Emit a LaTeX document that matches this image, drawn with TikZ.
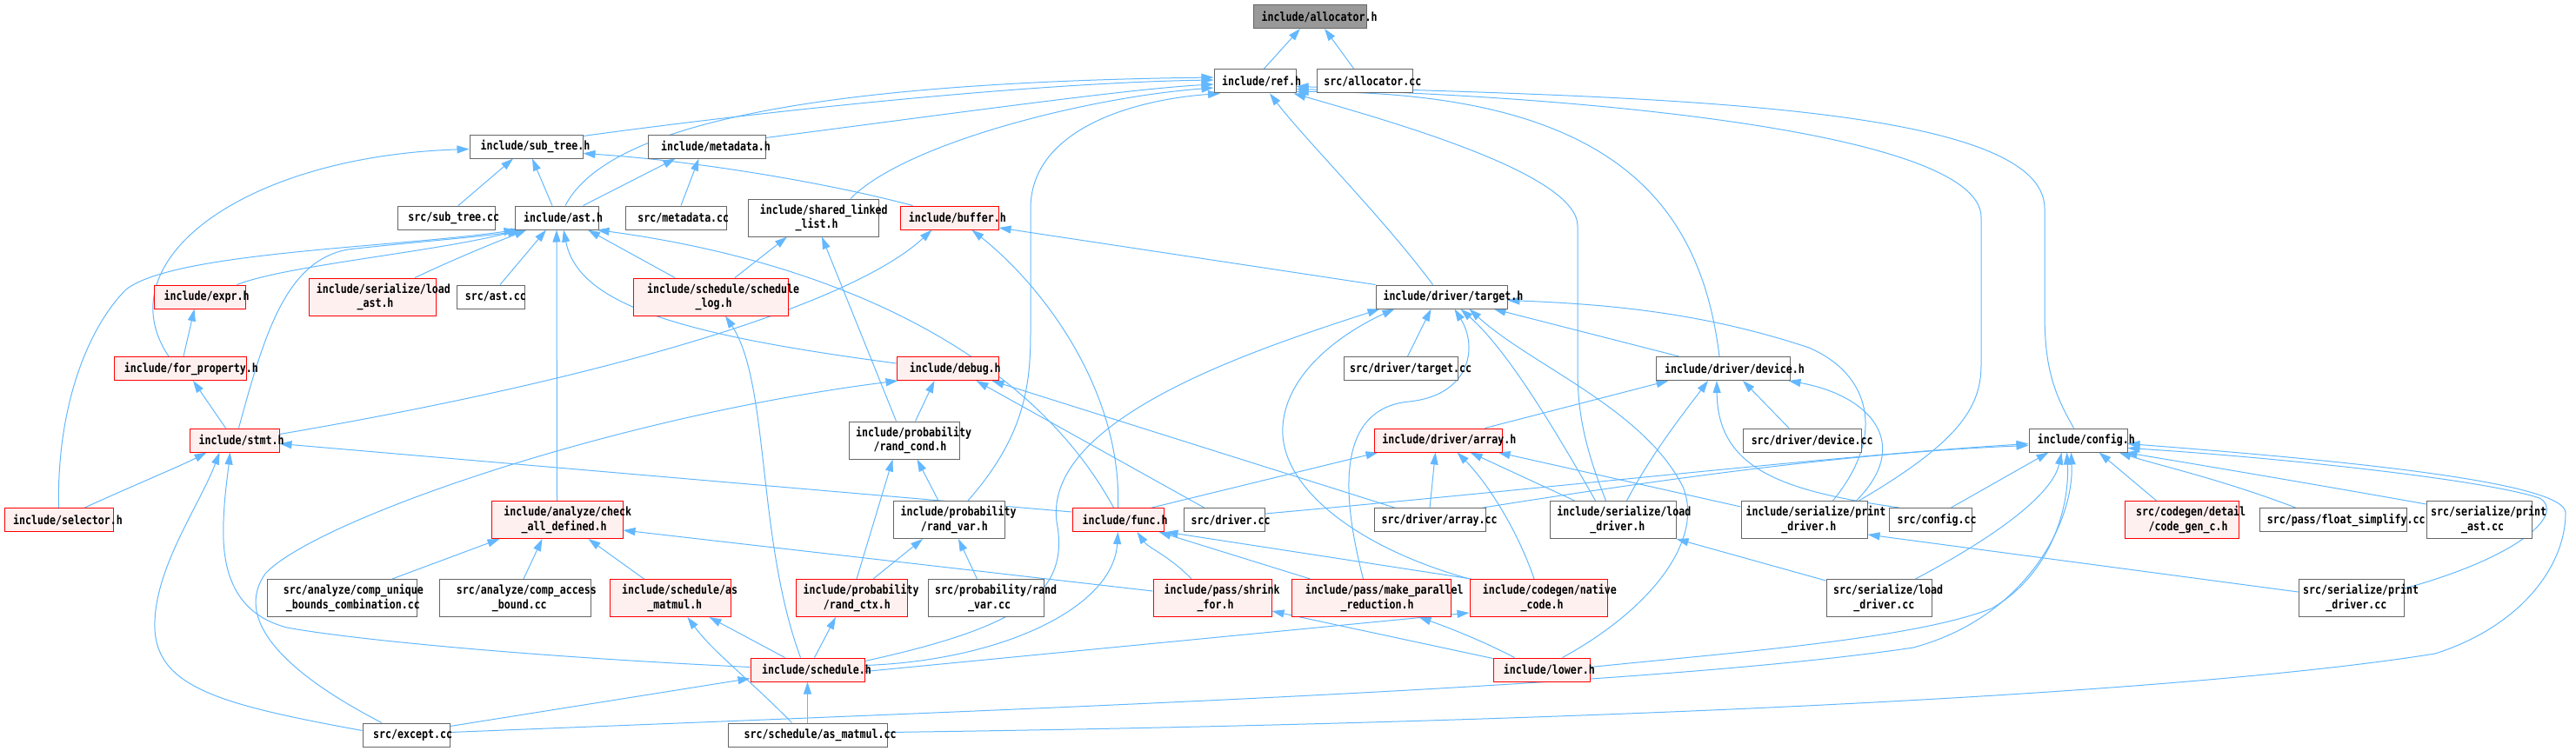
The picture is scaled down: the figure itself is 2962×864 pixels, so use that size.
\documentclass[tikz,border=0pt]{standalone}
\usepackage{fontspec}
\newfontfamily\dxfont{DejaVu Sans Mono}[FakeStretch=0.83]
\usetikzlibrary{arrows.meta}
\pgfdeclarelayer{bg}
\pgfsetlayers{bg,main}
\definecolor{edgec}{HTML}{63B8FF}
\definecolor{bordg}{HTML}{666666}
\definecolor{pinkf}{HTML}{FFF0F0}
\definecolor{grayf}{HTML}{999999}
\definecolor{redb}{HTML}{FF0000}
\newcommand\dxt[1]{\makebox[0.833\width][l]{#1}}
\begin{document}
\begin{tikzpicture}[x=1pt,y=-1pt,
 nd/.style={draw=bordg, fill=white, line width=1pt, inner sep=0pt, minimum height=27pt, font={\dxfont\bfseries\fontsize{14}{16.7}\selectfont}, align=center},
 tall/.style={minimum height=43pt},
 rd/.style={draw=redb, fill=pinkf},
 gr/.style={fill=grayf},
 conn/.style={draw=edgec, line width=1pt, -{Triangle[length=14pt,width=9pt]}}]
\useasboundingbox (0,0) rectangle (2962,864);
% nodes
\node[nd,gr,minimum width=130pt] (alloc) at (1506,19) {\dxt{include/allocator.h}};
\node[nd,minimum width=94pt] (ref) at (1443,93.5) {\dxt{include/ref.h}};
\node[nd,minimum width=110pt] (srcalloc) at (1569,93.5) {\dxt{src/allocator.cc}};
\node[nd,minimum width=130pt] (subtree) at (605,168.5) {\dxt{include/sub\_tree.h}};
\node[nd,minimum width=135pt] (metadata) at (812.5,168.5) {\dxt{include/metadata.h}};
\node[nd,minimum width=112pt] (srcsubtree) at (513,250.5) {\dxt{src/sub\_tree.cc}};
\node[nd,minimum width=96pt] (ast) at (640,250.5) {\dxt{include/ast.h}};
\node[nd,minimum width=116pt] (srcmetadata) at (777,250.5) {\dxt{src/metadata.cc}};
\node[nd,tall,minimum width=150pt] (sll) at (935,250.5) {\dxt{include/shared\_linked}\\\dxt{\_list.h}};
\node[nd,rd,minimum width=113pt] (buffer) at (1091.5,250.5) {\dxt{include/buffer.h}};
\node[nd,rd,minimum width=105pt] (expr) at (229.5,341.5) {\dxt{include/expr.h}};
\node[nd,rd,tall,minimum width=146pt] (loadast) at (428,341.5) {\dxt{include/serialize/load}\\\dxt{\_ast.h}};
\node[nd,minimum width=78pt] (srcast) at (564,341.5) {\dxt{src/ast.cc}};
\node[nd,rd,tall,minimum width=178pt] (schedlog) at (817,341.5) {\dxt{include/schedule/schedule}\\\dxt{\_log.h}};
\node[nd,minimum width=151pt] (target) at (1657.5,341.5) {\dxt{include/driver/target.h}};
\node[nd,rd,minimum width=152pt] (forprop) at (207,424) {\dxt{include/for\_property.h}};
\node[nd,rd,minimum width=117pt] (debug) at (1089.5,424) {\dxt{include/debug.h}};
\node[nd,minimum width=131pt] (srctarget) at (1610.5,424) {\dxt{src/driver/target.cc}};
\node[nd,minimum width=154pt] (device) at (1981,424) {\dxt{include/driver/device.h}};
\node[nd,rd,minimum width=103pt] (stmt) at (269.5,506.5) {\dxt{include/stmt.h}};
\node[nd,tall,minimum width=127pt] (randcond) at (1039.5,506.5) {\dxt{include/probability}\\\dxt{/rand\_cond.h}};
\node[nd,rd,minimum width=147pt] (array) at (1653.5,506.5) {\dxt{include/driver/array.h}};
\node[nd,minimum width=136pt] (srcdevice) at (2072,506.5) {\dxt{src/driver/device.cc}};
\node[nd,minimum width=113pt] (config) at (2389.5,506.5) {\dxt{include/config.h}};
\node[nd,rd,minimum width=125pt] (selector) at (67.5,598) {\dxt{include/selector.h}};
\node[nd,rd,tall,minimum width=151pt] (check) at (640.5,598) {\dxt{include/analyze/check}\\\dxt{\_all\_defined.h}};
\node[nd,tall,minimum width=128pt] (randvar) at (1091,598) {\dxt{include/probability}\\\dxt{/rand\_var.h}};
\node[nd,rd,minimum width=105pt] (func) at (1285.5,598) {\dxt{include/func.h}};
\node[nd,minimum width=93pt] (srcdriver) at (1407.5,598) {\dxt{src/driver.cc}};
\node[nd,minimum width=128pt] (srcarray) at (1644,598) {\dxt{src/driver/array.cc}};
\node[nd,tall,minimum width=145pt] (loaddrv) at (1854.5,598) {\dxt{include/serialize/load}\\\dxt{\_driver.h}};
\node[nd,tall,minimum width=145pt] (printdrv) at (2074.5,598) {\dxt{include/serialize/print}\\\dxt{\_driver.h}};
\node[nd,minimum width=95pt] (srcconfig) at (2219.5,598) {\dxt{src/config.cc}};
\node[nd,rd,tall,minimum width=131pt] (codegenc) at (2508.5,598) {\dxt{src/codegen/detail}\\\dxt{/code\_gen\_c.h}};
\node[nd,minimum width=169pt] (floatsimp) at (2682.5,598) {\dxt{src/pass/float\_simplify.cc}};
\node[nd,tall,minimum width=121pt] (printast) at (2850.5,598) {\dxt{src/serialize/print}\\\dxt{\_ast.cc}};
\node[nd,tall,minimum width=172pt] (compunique) at (393,688) {\dxt{src/analyze/comp\_unique}\\\dxt{\_bounds\_combination.cc}};
\node[nd,tall,minimum width=174pt] (compaccess) at (592,688) {\dxt{src/analyze/comp\_access}\\\dxt{\_bound.cc}};
\node[nd,rd,tall,minimum width=139pt] (asmatmulh) at (770.5,688) {\dxt{include/schedule/as}\\\dxt{\_matmul.h}};
\node[nd,rd,tall,minimum width=128pt] (randctx) at (979,688) {\dxt{include/probability}\\\dxt{/rand\_ctx.h}};
\node[nd,tall,minimum width=133pt] (srcrandvar) at (1133.5,688) {\dxt{src/probability/rand}\\\dxt{\_var.cc}};
\node[nd,rd,tall,minimum width=136pt] (shrink) at (1394,688) {\dxt{include/pass/shrink}\\\dxt{\_for.h}};
\node[nd,rd,tall,minimum width=183pt] (mpr) at (1576.5,688) {\dxt{include/pass/make\_parallel}\\\dxt{\_reduction.h}};
\node[nd,rd,tall,minimum width=158pt] (native) at (1769,688) {\dxt{include/codegen/native}\\\dxt{\_code.h}};
\node[nd,tall,minimum width=121pt] (loaddrvcc) at (2160.5,688) {\dxt{src/serialize/load}\\\dxt{\_driver.cc}};
\node[nd,tall,minimum width=121pt] (printdrvcc) at (2703.5,688) {\dxt{src/serialize/print}\\\dxt{\_driver.cc}};
\node[nd,rd,minimum width=131pt] (schedule) at (928.5,770.5) {\dxt{include/schedule.h}};
\node[nd,rd,minimum width=111pt] (lower) at (1772.5,770.5) {\dxt{include/lower.h}};
\node[nd,minimum width=100pt] (except) at (467,845.5) {\dxt{src/except.cc}};
\node[nd,minimum width=183pt] (asmatmulcc) at (928.5,845.5) {\dxt{src/schedule/as\_matmul.cc}};
% edges
\begin{pgfonlayer}{bg}
% allocator
\draw[conn] ([xshift=10pt]ref.north) -- ([xshift=-11pt]alloc.south);
\draw[conn] ([xshift=-12pt]srcalloc.north) -- ([xshift=17pt]alloc.south);
% ref
\draw[conn] ([yshift=-2pt]subtree.north east) .. controls (900,125) and (1200,95) .. ([yshift=1.5pt]ref.west);
\draw[conn] ([yshift=-4pt]metadata.north east) .. controls (1100,130) and (1300,102) .. ([yshift=-3.5pt]ref.west);
\draw[conn] ([xshift=10pt]ast.north) .. controls (700,140) and (950,95) .. ([yshift=4.5pt]ref.west);
\draw[conn] ([xshift=43pt]sll.north) .. controls (1040,165) and (1250,112) .. ([yshift=-7.5pt]ref.west);
\draw[conn] ([xshift=22pt]randvar.north) .. controls (1180,500) and (1185,440) .. (1185,380) -- (1185,240) .. controls (1185,150) and (1300,115) .. ([xshift=-40pt]ref.south);
\draw[conn] ([xshift=-10pt]target.north) .. controls (1590,250) and (1500,160) .. ([xshift=17pt]ref.south);
\draw[conn] ([xshift=-8pt]loaddrv.north) .. controls (1816,500) and (1814,460) .. (1814,420) -- (1814,260) .. controls (1814,200) and (1600,140) .. ([xshift=-3pt]ref.south east);
\draw[conn] ([xshift=-4pt]device.north) .. controls (1955,230) and (1850,105) .. ([yshift=2pt]ref.south east);
\draw[conn] ([xshift=-10pt]printdrv.north east) .. controls (2250,510) and (2278,470) .. (2278,420) -- (2278,250) .. controls (2278,150) and (1800,110) .. ([yshift=5pt]ref.south east);
\draw[conn] ([xshift=-5pt]config.north) .. controls (2360,450) and (2351,420) .. (2351,360) -- (2351,240) .. controls (2351,120) and (1900,112) .. ([yshift=8pt]ref.south east);
% sub_tree
\draw[conn] ([xshift=14pt]srcsubtree.north) -- ([xshift=-15pt]subtree.south);
\draw[conn] ([xshift=-5pt]ast.north) -- ([xshift=7pt]subtree.south);
\draw[conn] ([xshift=15pt]buffer.north west) .. controls (950,210) and (800,185) .. ([yshift=-8pt]subtree.east);
\draw[conn] ([xshift=-13pt]forprop.north) .. controls (120,300) and (280,180) .. ([yshift=-3pt]subtree.west);
% metadata
\draw[conn] ([xshift=-18pt]ast.north east) -- ([xshift=-36pt]metadata.south);
\draw[conn] ([xshift=6pt]srcmetadata.north) -- ([xshift=-9pt]metadata.south);
% ast
\draw[conn] (selector.north) .. controls (65,470) and (100,378) .. (145,333) .. controls (200,290) and (450,285) .. ([xshift=2pt]ast.south west);
\draw[conn] ([xshift=5pt]stmt.north) .. controls (305,380) and (330,300) .. (400,287) .. controls (480,278) and (560,272) .. ([xshift=10pt]ast.south west);
\draw[conn] ([xshift=-10pt]expr.north east) .. controls (330,305) and (500,290) .. ([xshift=6pt]ast.south west);
\draw[conn] ([xshift=49pt]loadast.north) .. controls (540,290) and (580,275) .. ([xshift=14pt]ast.south west);
\draw[conn] ([xshift=11pt]srcast.north) -- ([xshift=-12pt]ast.south);
\draw[conn] (check.north) -- (ast.south);
\draw[conn] ([xshift=-41pt]schedlog.north) -- ([xshift=36pt]ast.south);
\draw[conn] ([yshift=6pt]debug.west) .. controls (780,385) and (665,350) .. ([xshift=8pt]ast.south);
\draw[conn] ([xshift=-5pt]func.north) .. controls (1180,400) and (950,300) .. ([xshift=-2pt]ast.south east);
% expr
\draw[conn] ([xshift=4pt]forprop.north) -- ([xshift=-6pt]expr.south);
% shared_linked_list
\draw[conn] ([xshift=28pt]schedlog.north) -- ([xshift=-30pt]sll.south);
\draw[conn] ([xshift=-9pt]randcond.north) -- ([xshift=10pt]sll.south);
% buffer
\draw[conn] ([yshift=-7pt]stmt.north east) .. controls (700,435) and (980,350) .. ([xshift=-20pt]buffer.south);
\draw[conn] (target.north west) -- ([yshift=-11.5pt]buffer.east);
\draw[conn] (func.north) .. controls (1290,450) and (1200,330) .. ([xshift=26pt]buffer.south);
% schedule_log
\draw[conn] ([xshift=-8pt]schedule.north) .. controls (870,620) and (885,440) .. ([xshift=17pt]schedlog.south);
% target
\draw[conn] ([yshift=10pt]schedule.east) .. controls (1180,720) and (1230,680) .. (1215,600) .. controls (1200,480) and (1450,400) .. ([xshift=5pt]target.south west);
\draw[conn] (native.north west) .. controls (1560,630) and (1470,560) .. (1475,490) .. controls (1480,420) and (1560,375) .. ([xshift=22pt]target.south west);
\draw[conn] ([xshift=8pt]srctarget.north) -- ([xshift=-12pt]target.south);
\draw[conn] ([xshift=-9pt]mpr.north) .. controls (1540,560) and (1540,470) .. (1620,462) .. controls (1690,455) and (1700,400) .. ([xshift=15pt]target.south);
\draw[conn] ([xshift=-20pt]loaddrv.north) .. controls (1780,480) and (1730,400) .. ([xshift=22pt]target.south);
\draw[conn] ([xshift=24pt]lower.north) .. controls (1900,700) and (1960,620) .. (1935,560) .. controls (1890,470) and (1760,420) .. ([xshift=32pt]target.south);
\draw[conn] ([xshift=27pt]device.north west) -- ([xshift=-16pt]target.south east);
\draw[conn] ([xshift=33pt]printdrv.north) .. controls (2170,500) and (2150,430) .. (2080,400) .. controls (1960,360) and (1850,350) .. ([yshift=-4pt]target.east);
% device
\draw[conn] ([xshift=-20pt]array.north east) -- ([xshift=15pt]device.south west);
\draw[conn] ([xshift=16pt]loaddrv.north) .. controls (1900,520) and (1940,470) .. ([xshift=-17pt]device.south);
\draw[conn] ([xshift=-36pt]srcconfig.north) .. controls (2050,565) and (1975,540) .. ([xshift=-7pt]device.south);
\draw[conn] ([xshift=-15pt]srcdevice.north) -- ([xshift=23pt]device.south);
\draw[conn] ([xshift=-13pt]printdrv.north east) .. controls (2200,510) and (2150,455) .. ([xshift=-2pt]device.south east);
% debug
\draw[conn] ([xshift=-28pt]except.north) .. controls (320,770) and (270,710) .. (305,660) .. controls (360,600) and (700,480) .. ([xshift=2pt]debug.south west);
\draw[conn] ([xshift=13pt]randcond.north) -- ([xshift=-15pt]debug.south);
\draw[conn] ([xshift=-23pt]srcdriver.north) -- ([xshift=33pt]debug.south);
\draw[conn] ([xshift=24pt]srcarray.north west) -- ([xshift=-8pt]debug.south east);
% rand_cond
\draw[conn] ([xshift=-12pt]randvar.north) -- ([xshift=15pt]randcond.south);
\draw[conn] ([xshift=6pt]randctx.north) -- ([xshift=-13pt]randcond.south);
% rand_var
\draw[conn] ([xshift=25pt]randctx.north) -- ([xshift=-30pt]randvar.south);
\draw[conn] ([xshift=-10pt]srcrandvar.north) -- ([xshift=11pt]randvar.south);
% array
\draw[conn] ([xshift=-14pt]func.north east) -- ([xshift=5pt]array.south west);
\draw[conn] (srcarray.north) -- ([xshift=-3pt]array.south);
\draw[conn] ([xshift=-5pt]native.north) .. controls (1745,610) and (1710,555) .. ([xshift=22pt]array.south);
\draw[conn] ([xshift=-44pt]loaddrv.north) -- ([xshift=37pt]array.south);
\draw[conn] ([yshift=15pt]printdrv.west) -- ([xshift=-5pt]array.south east);
% func
\draw[conn] ([xshift=-24pt]shrink.north) .. controls (1345,640) and (1320,630) .. ([xshift=22pt]func.south);
\draw[conn] ([yshift=5pt]schedule.east) .. controls (1150,760) and (1280,700) .. (func.south);
\draw[conn] ([xshift=2pt]native.north west) -- ([xshift=2pt]func.south east);
\draw[conn] ([xshift=22pt]mpr.north west) -- ([xshift=-6pt]func.south east);
% stmt / for_property
\draw[conn] ([xshift=-10pt]stmt.north) -- ([xshift=15pt]forprop.south);
\draw[conn] ([xshift=30pt]selector.north) .. controls (150,560) and (210,535) .. ([xshift=-32pt]stmt.south);
\draw[conn] ([yshift=5pt]except.west) .. controls (250,810) and (175,790) .. (178,715) .. controls (180,650) and (230,580) .. ([xshift=-17pt]stmt.south);
\draw[conn] ([yshift=3pt]schedule.west) .. controls (600,755) and (400,735) .. (330,722) .. controls (265,705) and (255,650) .. (257,600) .. controls (258,570) and (262,545) .. ([xshift=-5pt]stmt.south);
\draw[conn] ([yshift=9pt]func.west) -- ([yshift=-4pt]stmt.east);
% check_all_defined
\draw[conn] ([xshift=58pt]compunique.north) -- ([xshift=-66pt]check.south);
\draw[conn] ([xshift=10pt]compaccess.north) -- ([xshift=-17pt]check.south);
\draw[conn] ([xshift=40pt]asmatmulh.north west) -- ([xshift=36pt]check.south);
\draw[conn] ([yshift=8pt]shrink.west) -- ([yshift=-12pt]check.east);
% as_matmul.h, rand_ctx, schedule
\draw[conn] ([xshift=40pt]schedule.north west) -- ([xshift=-25pt]asmatmulh.south east);
\draw[conn] ([xshift=-18pt]asmatmulcc.north) .. controls (860,780) and (820,750) .. ([xshift=20pt]asmatmulh.south);
\draw[conn] ([xshift=8pt]schedule.north) -- ([xshift=-18pt]randctx.south);
\draw[conn] (asmatmulcc.north) -- (schedule.south);
\draw[conn] ([yshift=10pt]except.east) -- ([yshift=-10pt]schedule.west);
% shrink, make_parallel, native
\draw[conn] ([yshift=-1pt]lower.north west) -- ([yshift=-15pt]shrink.east);
\draw[conn] ([xshift=-31pt]lower.north) .. controls (1700,735) and (1660,720) .. ([xshift=55pt]mpr.south);
\draw[conn] ([yshift=-2pt]schedule.east) -- ([yshift=-17pt]native.west);
% serialize
\draw[conn] ([yshift=-2pt]loaddrvcc.north west) -- (loaddrv.south east);
\draw[conn] ([yshift=7pt]printdrvcc.west) -- ([yshift=-17pt]printdrv.east);
% config
\draw[conn] ([yshift=7pt]srcdriver.east) .. controls (1800,560) and (2100,525) .. ([yshift=-4pt]config.west);
\draw[conn] ([xshift=-3pt]srcarray.north east) .. controls (1950,545) and (2150,520) .. ([yshift=-6pt]config.west);
\draw[conn] ([xshift=-24pt]srcconfig.north east) -- ([xshift=-34pt]config.south);
\draw[conn] ([xshift=-19pt]loaddrvcc.north east) .. controls (2290,620) and (2360,570) .. ([xshift=-19pt]config.south);
\draw[conn] ([yshift=3pt]lower.east) .. controls (2000,750) and (2200,735) .. (2290,700) .. controls (2360,660) and (2380,580) .. ([xshift=-13pt]config.south);
\draw[conn] ([yshift=3pt]except.east) .. controls (1200,815) and (1900,790) .. (2200,745) .. controls (2330,710) and (2385,600) .. ([xshift=-8pt]config.south);
\draw[conn] ([yshift=3pt]asmatmulcc.east) .. controls (1800,832) and (2500,800) .. (2800,752) .. controls (2900,720) and (2950,650) .. (2950,590) .. controls (2950,555) and (2700,530) .. ([yshift=-4pt]config.east);
\draw[conn] ([xshift=-29pt]codegenc.north) -- ([xshift=24pt]config.south);
\draw[conn] ([xshift=-43pt]floatsimp.north) .. controls (2550,550) and (2480,535) .. ([xshift=-10pt]config.south east);
\draw[conn] ([yshift=18pt]printast.west) .. controls (2650,555) and (2500,530) .. ([xshift=-3pt]config.south east);
\draw[conn] ([yshift=11pt]printdrvcc.east) .. controls (2900,640) and (2950,590) .. (2920,573) .. controls (2850,550) and (2600,525) .. ([yshift=-9pt]config.east);
\end{pgfonlayer}
\end{tikzpicture}
\end{document}
